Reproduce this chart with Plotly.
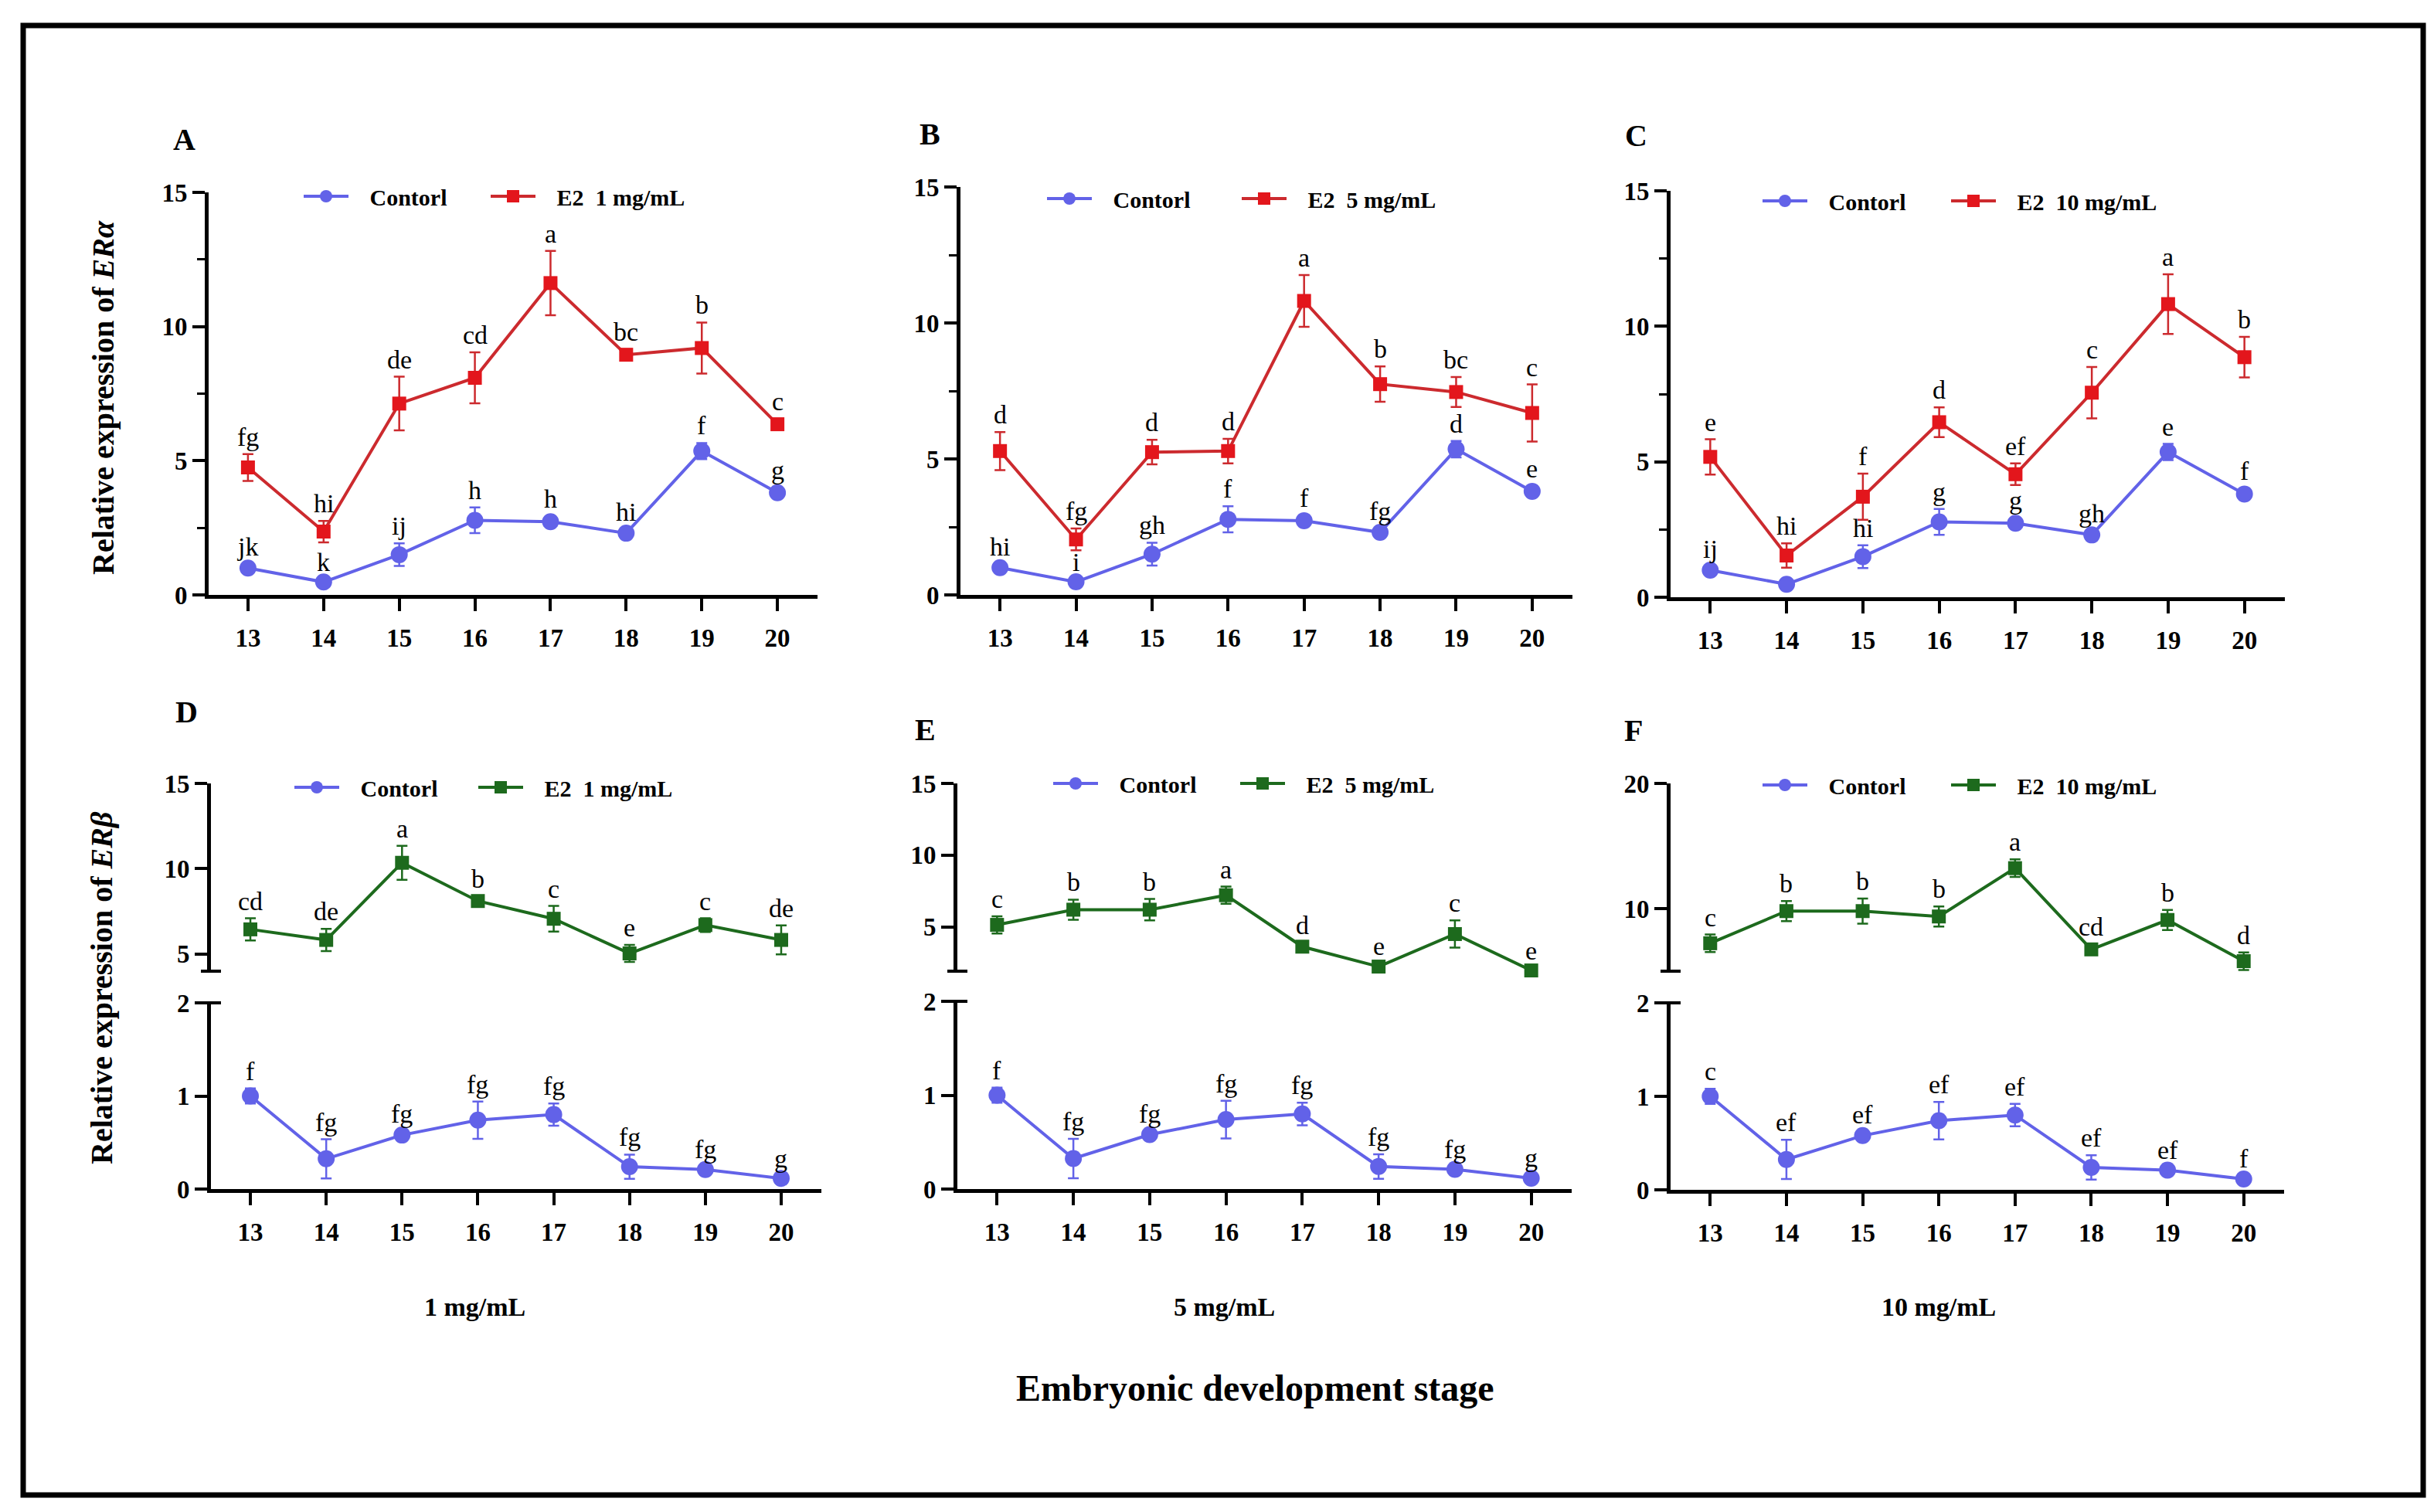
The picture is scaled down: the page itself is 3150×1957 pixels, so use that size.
import plotly.graph_objects as go

# page body has an 8px margin; figure coordinates below are given in reference-image pixels
OFF = 8
FW, FH = 3150 - 2 * OFF, 1957 - 2 * OFF
FONT = "Liberation Serif, Times New Roman, serif"

stages = [13, 14, 15, 16, 17, 18, 19, 20]

# ---------------- Top row: ERα ----------------
era_ctrl = [1.0, 0.48, 1.5, 2.78, 2.73, 2.3, 5.36, 3.81]
era_ctrl_err = [0.15, 0.1, 0.42, 0.48, 0.2, 0.15, 0.3, 0.2]
era_e2_1 = [4.75, 2.36, 7.13, 8.09, 11.62, 8.95, 9.2, 6.36]
era_e2_1_err = [0.5, 0.4, 1.0, 0.95, 1.2, 0.2, 0.95, 0.2]
era_e2_5 = [5.29, 2.04, 5.25, 5.29, 10.81, 7.75, 7.46, 6.69]
era_e2_5_err = [0.7, 0.4, 0.45, 0.45, 0.95, 0.65, 0.55, 1.05]
era_e2_10 = [5.18, 1.54, 3.71, 6.46, 4.54, 7.55, 10.82, 8.86]
era_e2_10_err = [0.65, 0.45, 0.85, 0.55, 0.4, 0.95, 1.1, 0.75]

lab_A_ctrl = ["jk", "k", "ij", "h", "h", "hi", "f", "g"]
lab_A_e2 = ["fg", "hi", "de", "cd", "a", "bc", "b", "c"]
lab_B_ctrl = ["hi", "i", "gh", "f", "f", "fg", "d", "e"]
lab_B_e2 = ["d", "fg", "d", "d", "a", "b", "bc", "c"]
lab_C_ctrl = ["ij", "", "hi", "g", "g", "gh", "e", "f"]
lab_C_e2 = ["e", "hi", "f", "d", "ef", "c", "a", "b"]

# ---------------- Bottom row: ERβ ----------------
erb_ctrl = [1.0, 0.325, 0.58, 0.74, 0.80, 0.24, 0.21, 0.115]
erb_ctrl_err = [0.08, 0.21, 0.04, 0.2, 0.12, 0.13, 0.03, 0.03]
erb_e2_1 = [6.45, 5.83, 10.35, 8.11, 7.07, 5.04, 6.7, 5.83]
erb_e2_1_err = [0.65, 0.65, 1.0, 0.3, 0.75, 0.5, 0.4, 0.85]
erb_e2_5 = [5.13, 6.19, 6.19, 7.2, 3.61, 2.22, 4.49, 1.95]
erb_e2_5_err = [0.6, 0.7, 0.75, 0.6, 0.3, 0.2, 0.95, 0.15]
erb_e2_10 = [7.23, 9.8, 9.8, 9.37, 13.23, 6.74, 9.09, 5.8]
erb_e2_10_err = [0.7, 0.8, 1.0, 0.8, 0.7, 0.4, 0.8, 0.7]

lab_D_ctrl = ["f", "fg", "fg", "fg", "fg", "fg", "fg", "g"]
lab_D_e2 = ["cd", "de", "a", "b", "c", "e", "c", "de"]
lab_E_ctrl = ["f", "fg", "fg", "fg", "fg", "fg", "fg", "g"]
lab_E_e2 = ["c", "b", "b", "a", "d", "e", "c", "e"]
lab_F_ctrl = ["c", "ef", "ef", "ef", "ef", "ef", "ef", "f"]
lab_F_e2 = ["c", "b", "b", "b", "a", "cd", "b", "d"]

ctrl_name = "Contorl"
dose_names = ["E2 \u00a01 mg/mL", "E2 \u00a05 mg/mL", "E2 \u00a010 mg/mL"]
dose_labels = ["1 mg/mL", "5 mg/mL", "10 mg/mL"]
panel_letters = ["A", "B", "C", "D", "E", "F"]

BLUE = "#6262e8"
RED = "#e3161c"
REDLINE = "#cc2a2e"
GREEN = "#1d6a1d"

XR = [12.48, 20.53]
PAD = "\u00a0\u00a0\u00a0"


def X(px):
    return (px - OFF) / FW


def Y(py):
    return 1 - (py - OFF) / FH


def xd(a, b):
    return [X(a), X(b)]


def yd(top, bottom):
    return [Y(bottom), Y(top)]


fig = go.Figure()
layout = {}

axis_common = dict(
    showline=True, linecolor="black", linewidth=5, ticks="outside", ticklen=16,
    tickwidth=4, tickcolor="black", showgrid=False, zeroline=False, automargin=False,
    tickfont=dict(family=FONT, size=33, color="black", weight="bold"),
)

annotations = []
shapes = []


def add_letters(xref, yref, vals, errs, labels):
    for s, v, e, t in zip(stages, vals, errs, labels):
        if not t:
            continue
        annotations.append(dict(
            x=s, y=v + e, xref=xref, yref=yref, text=t, showarrow=False,
            xanchor="center", yanchor="bottom", yshift=2,
            font=dict(family=FONT, size=34, color="black"),
        ))


def add_trace(xa, ya, y, err, color, linecolor, symbol, size, name, legend, lw):
    fig.add_trace(go.Scatter(
        x=stages, y=y, mode="lines+markers", name=PAD + name,
        xaxis=xa, yaxis=ya, legend=legend, cliponaxis=False, legendwidth=lw,
        line=dict(color=linecolor, width=4),
        marker=dict(color=color, symbol=symbol, size=size),
        error_y=dict(type="data", array=err, color=linecolor, thickness=2.5, width=7),
    ))


def paper_text(x, y, text, size, angle=0):
    annotations.append(dict(
        x=X(x), y=Y(y), xref="paper", yref="paper", text=text, showarrow=False,
        xanchor="center", yanchor="middle", textangle=angle,
        font=dict(family=FONT, size=size, color="black", weight="bold"),
    ))


def make_legend(sym_start, leg_y):
    return dict(
        x=X(sym_start - 4), y=Y(leg_y), xanchor="left", yanchor="middle",
        orientation="h", itemwidth=58,
        bgcolor="rgba(0,0,0,0)", borderwidth=0, tracegroupgap=0,
        font=dict(family=FONT, size=30, color="black", weight="bold"),
        itemclick=False, itemdoubleclick=False,
    )


# ---------------- Top row panels ----------------
top_specs = [
    dict(x=(270, 1058), y=(249, 770), e2=era_e2_1, e2err=era_e2_1_err,
         lc=lab_A_ctrl, le=lab_A_e2, leg_x=392, leg_dx=242, leg_y=254, pl=(238, 180)),
    dict(x=(1243, 2035), y=(242, 770), e2=era_e2_5, e2err=era_e2_5_err,
         lc=lab_B_ctrl, le=lab_B_e2, leg_x=1354, leg_dx=252, leg_y=257, pl=(1203, 174)),
    dict(x=(2162, 2957), y=(247, 773), e2=era_e2_10, e2err=era_e2_10_err,
         lc=lab_C_ctrl, le=lab_C_e2, leg_x=2280, leg_dx=244, leg_y=260, pl=(2117, 176)),
]

for i, sp in enumerate(top_specs):
    n = i + 1
    xa, ya = f"x{n}", f"y{n}"
    lg = "legend" if n == 1 else f"legend{n}"
    add_trace(xa, ya, era_ctrl, era_ctrl_err, BLUE, BLUE, "circle", 22, ctrl_name, lg,
              sp["leg_dx"] - 73)
    add_trace(xa, ya, sp["e2"], sp["e2err"], RED, REDLINE, "square", 18, dose_names[i], lg, 260)
    layout[f"xaxis{n}"] = dict(axis_common, domain=xd(*sp["x"]), range=XR, anchor=ya,
                               tickvals=stages, ticklabelstandoff=6)
    layout[f"yaxis{n}"] = dict(axis_common, domain=yd(*sp["y"]), range=[0, 15], anchor=xa,
                               tickvals=[0, 5, 10, 15],
                               minor=dict(dtick=2.5, ticklen=10, tickwidth=3, tickcolor="black",
                                          ticks="outside", showgrid=False))
    add_letters(xa, ya, era_ctrl, era_ctrl_err, sp["lc"])
    add_letters(xa, ya, sp["e2"], sp["e2err"], sp["le"])
    layout[lg] = make_legend(sp["leg_x"], sp["leg_y"])
    paper_text(sp["pl"][0], sp["pl"][1], panel_letters[i], 40)

# ---------------- Bottom row panels (broken axis) ----------------
bot_specs = [
    dict(x=(273, 1063), up=(1014, 1257), lo=(1298, 1539), urange=[4, 15], uticks=[5, 10, 15],
         e2=erb_e2_1, e2err=erb_e2_1_err, lc=lab_D_ctrl, le=lab_D_e2,
         leg_x=380, leg_dx=238, leg_y=1019, pl=(241, 921)),
    dict(x=(1239, 2034), up=(1014, 1257), lo=(1296, 1539), urange=[1.9, 15], uticks=[5, 10, 15],
         e2=erb_e2_5, e2err=erb_e2_5_err, lc=lab_E_ctrl, le=lab_E_e2,
         leg_x=1362, leg_dx=242, leg_y=1014, pl=(1197, 944)),
    dict(x=(2162, 2956), up=(1014, 1257), lo=(1298, 1540), urange=[5, 20], uticks=[10, 20],
         e2=erb_e2_10, e2err=erb_e2_10_err, lc=lab_F_ctrl, le=lab_F_e2,
         leg_x=2280, leg_dx=244, leg_y=1016, pl=(2114, 946)),
]

for i, sp in enumerate(bot_specs):
    nu = 4 + 2 * i
    nl = nu + 1
    lg = f"legend{4 + i}"
    xu, yu, xl, yl = f"x{nu}", f"y{nu}", f"x{nl}", f"y{nl}"
    add_trace(xl, yl, erb_ctrl, erb_ctrl_err, BLUE, BLUE, "circle", 22, ctrl_name, lg,
              sp["leg_dx"] - 73)
    add_trace(xu, yu, sp["e2"], sp["e2err"], GREEN, GREEN, "square", 18, dose_names[i], lg, 260)
    layout[f"xaxis{nu}"] = dict(domain=xd(*sp["x"]), range=XR, anchor=yu, visible=False)
    layout[f"yaxis{nu}"] = dict(axis_common, domain=yd(*sp["up"]), range=sp["urange"], anchor=xu,
                                tickvals=sp["uticks"])
    layout[f"xaxis{nl}"] = dict(axis_common, domain=xd(*sp["x"]), range=XR, anchor=yl,
                                tickvals=stages, ticklabelstandoff=6)
    layout[f"yaxis{nl}"] = dict(axis_common, domain=yd(*sp["lo"]), range=[0, 2], anchor=xl,
                                tickvals=[0, 1, 2])
    add_letters(xl, yl, erb_ctrl, erb_ctrl_err, sp["lc"])
    add_letters(xu, yu, sp["e2"], sp["e2err"], sp["le"])
    wpx = sp["x"][1] - sp["x"][0]
    half = 13 / wpx
    # axis-break caps
    shapes.append(dict(type="line", xref=f"{xu} domain", yref=f"{yu} domain",
                       x0=-half, x1=half, y0=0, y1=0, line=dict(color="black", width=4)))
    shapes.append(dict(type="line", xref=f"{xl} domain", yref=f"{yl} domain",
                       x0=-half, x1=half, y0=1, y1=1, line=dict(color="black", width=4)))
    layout[lg] = make_legend(sp["leg_x"], sp["leg_y"])
    paper_text(sp["pl"][0], sp["pl"][1], panel_letters[3 + i], 40)

# ---------------- Global texts ----------------
paper_text(133, 515, "Relative expression of <i>ERα</i>", 40, -90)
paper_text(131, 1278, "Relative expression of <i>ERβ</i>", 40, -90)
for cx, t in zip([614, 1584, 2509], dose_labels):
    paper_text(cx, 1691, t, 34)
paper_text(1625, 1796, "Embryonic development stage", 48)

# outer frame
shapes.append(dict(type="rect", xref="paper", yref="paper",
                   x0=X(30), x1=X(3136), y0=Y(1935), y1=Y(33),
                   line=dict(color="black", width=7)))

fig.update_layout(
    width=FW, height=FH, margin=dict(l=0, r=0, t=0, b=0, autoexpand=False),
    paper_bgcolor="white", plot_bgcolor="white",
    annotations=annotations, shapes=shapes, **layout,
)

fig.write_html("out.html", config={"displayModeBar": False})
